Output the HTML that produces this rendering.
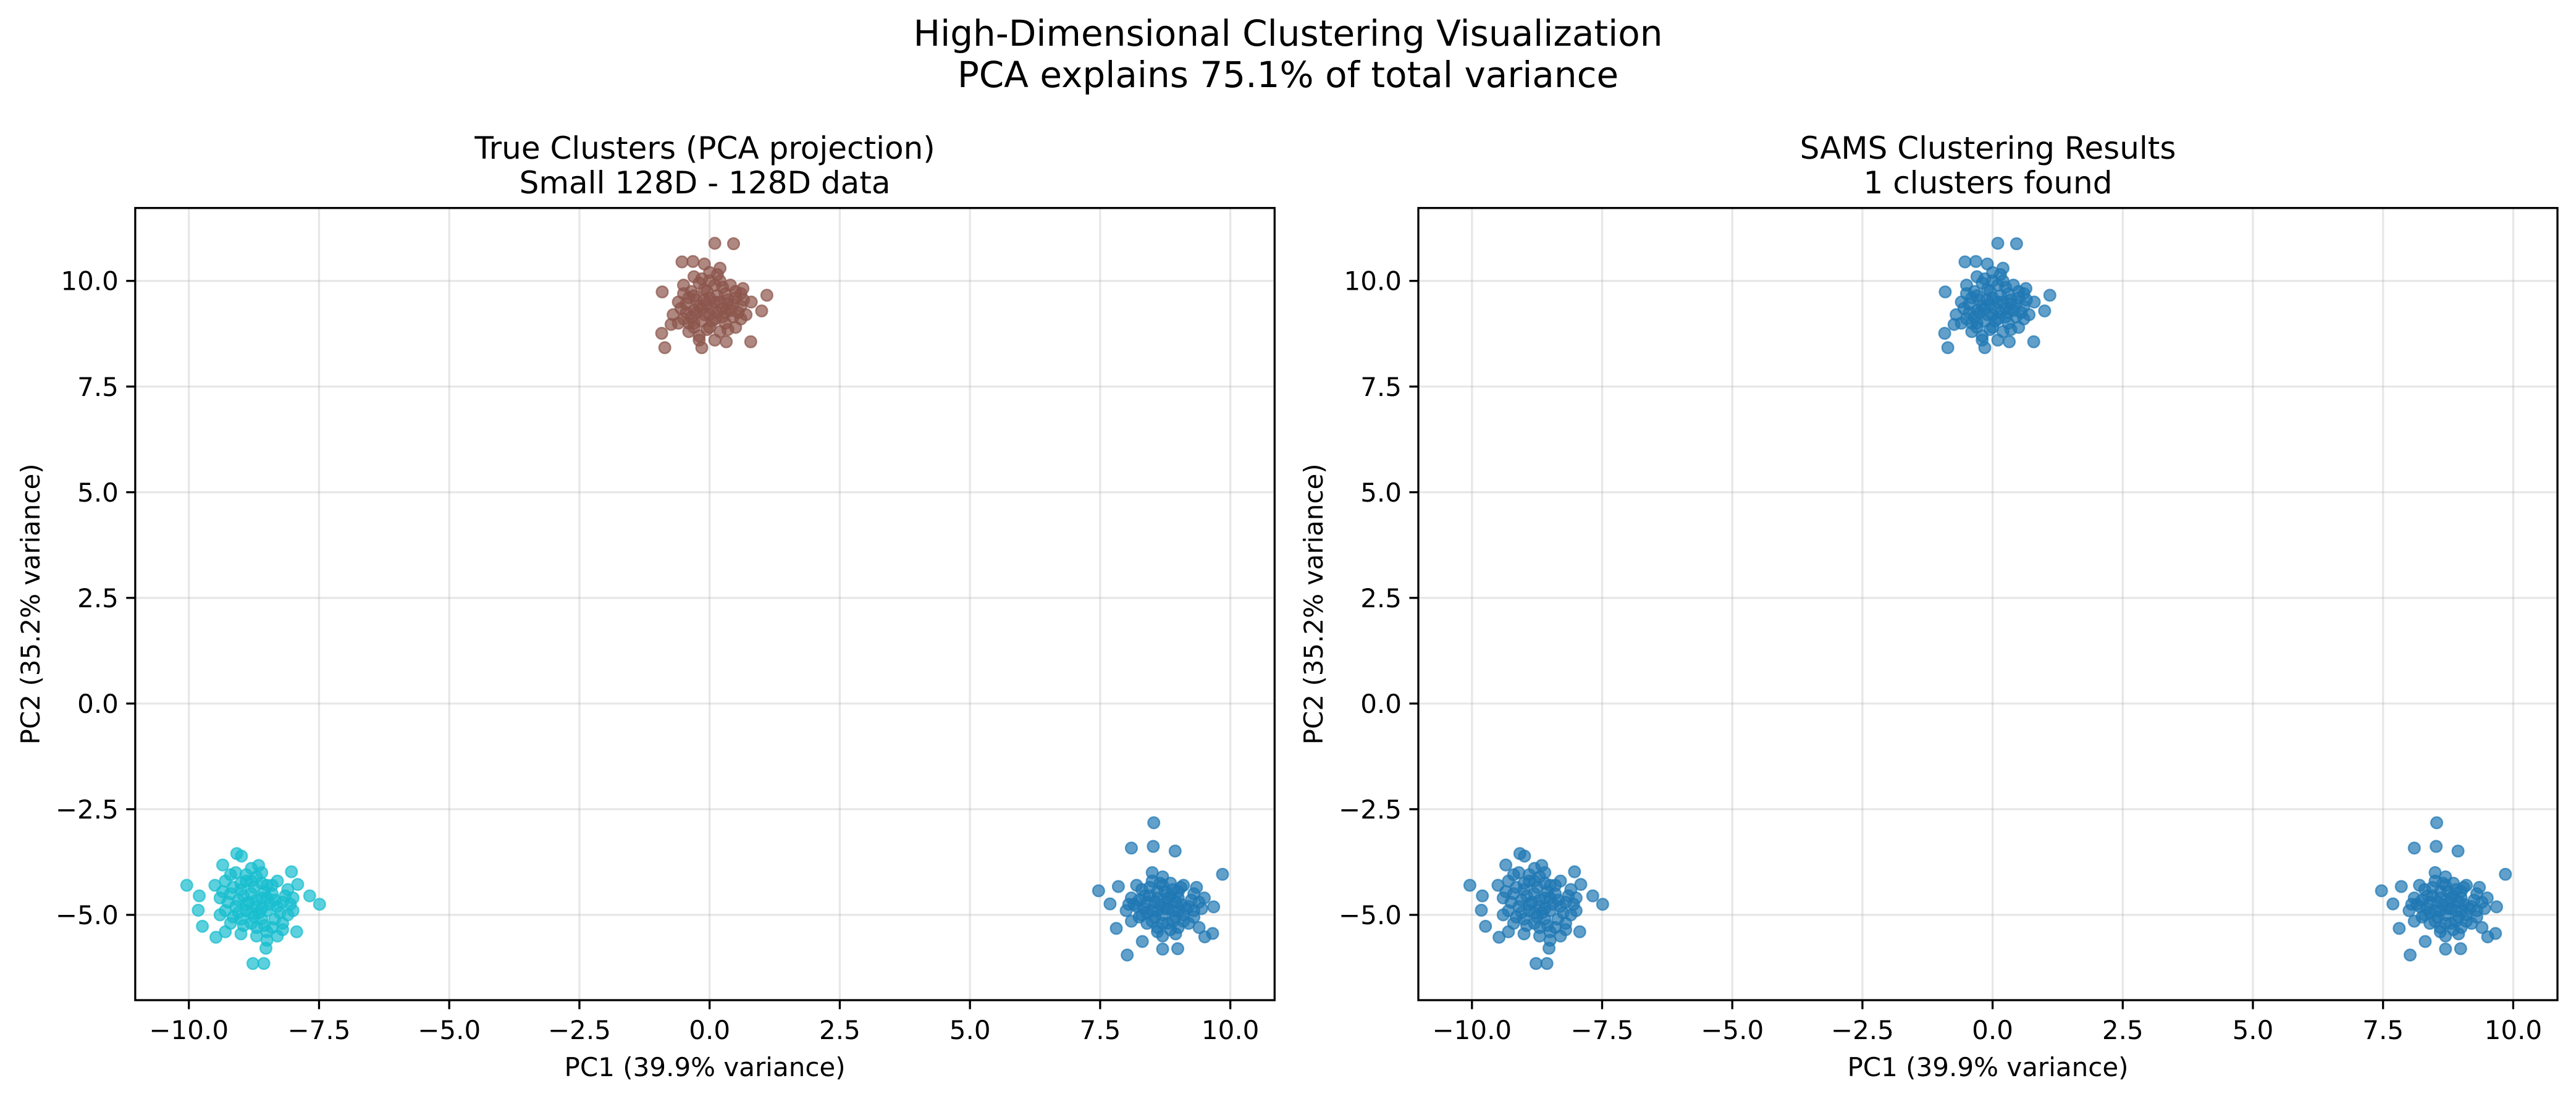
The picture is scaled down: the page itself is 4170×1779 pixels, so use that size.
<!DOCTYPE html>
<html><head><meta charset="utf-8">
<style>
html,body{margin:0;padding:0;background:#fff;}
svg{display:block;font-family:"DejaVu Sans","Liberation Sans",sans-serif;}
</style></head>
<body>
<svg id="fig" width="4170" height="1779" viewBox="0 0 4170 1779" xmlns="http://www.w3.org/2000/svg">
<rect width="4170" height="1779" fill="#fff"/>
<text x="2085" y="74" font-size="58" text-anchor="middle">High-Dimensional Clustering Visualization</text>
<text x="2085" y="141" font-size="58" text-anchor="middle">PCA explains 75.1% of total variance</text>
<g id="panels"></g>
</svg>
<script>
const xTicks = [-10, -7.5, -5, -2.5, 0, 2.5, 5, 7.5, 10];
const yTicks = [-5, -2.5, 0, 2.5, 5, 7.5, 10];
const brownPts = [[-0.5,9.9],[-0.3,10.1],[0.0,10.2],[0.2,10.0],[0.4,9.9],[0.6,9.7],[-0.6,9.5],[-0.4,9.6],[-0.2,9.4],[0.0,9.6],[0.2,9.5],[0.4,9.3],[0.6,9.4],[0.7,9.2],[-0.7,9.2],[-0.5,9.1],[-0.3,9.0],[-0.1,9.2],[0.1,9.1],[0.3,9.0],[0.5,8.9],[-0.4,8.8],[-0.2,8.7],[0.0,8.9],[0.2,8.8],[-0.1,9.8],[0.1,9.9],[0.3,9.7],[-0.3,9.3],[0.5,9.6],[-0.6,9.0],[0.8,9.5],[-0.1,10.4],[0.2,10.3],[-0.2,8.6],[0.1,8.6],[0.6,9.1],[-0.5,9.7],
 [0.10,10.89],[0.46,10.88],[-0.53,10.45],[-0.32,10.46],[1.10,9.66],[1.0,9.29],[-0.91,9.74],[-0.92,8.76],[-0.86,8.42],[0.79,8.56],[0.32,8.56],[-0.15,8.42],[0.64,9.82],[-0.74,8.97],
 [-0.45,9.45],[-0.35,9.75],[-0.25,9.55],[-0.15,9.35],[-0.05,9.45],[0.05,9.35],[0.15,9.65],[0.25,9.35],[0.35,9.55],[0.45,9.15],[-0.45,9.25],[-0.35,9.15],[-0.25,9.25],[-0.15,9.05],[-0.05,9.75],[0.05,9.05],[0.15,9.25],[0.25,9.15],[0.35,9.45],[0.45,9.45],[-0.55,9.35],[0.55,9.25],[-0.2,9.95],[0.0,10.0],[0.25,9.85],[-0.4,9.0],[0.0,9.2],[0.1,9.5],[-0.1,9.55],[0.3,9.25],[-0.3,9.65],[0.65,9.55],[-0.05,8.85],[0.35,8.85],[-0.3,8.9],[0.15,10.15],[-0.15,10.05],[0.5,9.75]];
const bluePts = [[8.1,-4.6],[8.3,-4.4],[8.5,-4.2],[8.7,-4.3],[8.9,-4.4],[9.1,-4.3],[9.3,-4.5],[8.2,-4.8],[8.4,-4.7],[8.6,-4.6],[8.8,-4.7],[9.0,-4.6],[9.2,-4.8],[9.4,-4.7],[8.0,-4.9],[8.3,-5.0],[8.5,-4.9],[8.7,-5.0],[8.9,-4.9],[9.1,-5.0],[9.3,-4.9],[8.4,-5.2],[8.6,-5.3],[8.8,-5.2],[9.0,-5.3],[9.2,-5.2],[8.5,-4.0],[8.7,-4.1],[8.2,-4.3],[9.5,-4.6],[8.6,-4.45],[8.8,-4.85],[9.0,-4.45],[8.35,-4.55],[8.95,-5.45],[8.7,-5.5],[9.4,-5.3],[8.1,-5.15],
 [8.53,-2.82],[8.10,-3.42],[8.52,-3.38],[8.94,-3.49],[9.85,-4.04],[7.47,-4.43],[7.81,-5.32],[8.02,-5.95],[8.70,-5.81],[8.99,-5.80],[8.31,-5.63],[9.51,-5.52],[9.66,-5.44],[9.68,-4.81],[7.69,-4.74],[7.85,-4.33],
 [8.25,-4.65],[8.45,-4.55],[8.65,-4.75],[8.85,-4.55],[9.05,-4.75],[9.25,-4.65],[8.35,-4.85],[8.55,-5.05],[8.75,-4.85],[8.95,-5.05],[9.15,-4.85],[8.45,-4.35],[8.65,-4.25],[8.85,-4.25],[9.05,-4.35],[8.25,-5.05],[8.5,-5.15],[8.7,-5.2],[8.9,-5.15],[9.1,-5.15],[9.3,-5.05],[8.15,-4.75],[9.35,-4.35],[8.6,-4.9],[8.8,-4.6],[9.0,-4.9],[8.4,-4.95],[8.75,-4.45],[8.55,-4.7],[8.95,-4.7],[8.05,-4.75],[9.45,-4.85],[8.6,-5.4],[8.85,-5.35]];
const cyanPts = [[-9.3,-4.2],[-9.1,-4.0],[-8.9,-4.2],[-8.7,-4.1],[-8.5,-4.3],[-8.3,-4.2],[-8.1,-4.4],[-9.4,-4.6],[-9.2,-4.5],[-9.0,-4.4],[-8.8,-4.5],[-8.6,-4.6],[-8.4,-4.5],[-8.2,-4.7],[-9.3,-4.9],[-9.1,-4.8],[-8.9,-4.9],[-8.7,-4.8],[-8.5,-4.9],[-8.3,-4.8],[-8.1,-5.0],[-9.2,-5.2],[-9.0,-5.1],[-8.8,-5.2],[-8.6,-5.1],[-8.4,-5.3],[-8.2,-5.2],[-9.0,-5.45],[-8.7,-5.5],[-8.5,-5.6],[-9.4,-5.0],[-8.0,-4.6],[-8.8,-3.9],[-9.5,-4.3],[-8.6,-4.0],[-9.3,-5.4],[-8.3,-5.5],[-8.0,-4.9],
 [-10.04,-4.30],[-9.82,-4.89],[-9.74,-5.27],[-9.48,-5.53],[-9.08,-3.55],[-8.99,-3.61],[-8.77,-6.15],[-8.56,-6.15],[-8.52,-5.79],[-8.03,-3.98],[-7.91,-4.28],[-7.68,-4.55],[-7.49,-4.75],[-7.93,-5.40],[-8.66,-3.83],[-9.35,-3.82],[-9.80,-4.55],
 [-9.15,-4.35],[-8.95,-4.55],[-8.75,-4.35],[-8.55,-4.45],[-8.35,-4.65],[-8.15,-4.55],[-9.25,-4.7],[-9.05,-4.95],[-8.85,-4.7],[-8.65,-4.95],[-8.45,-4.75],[-8.25,-4.95],[-9.15,-5.05],[-8.95,-5.25],[-8.75,-5.05],[-8.55,-5.25],[-8.35,-5.1],[-9.0,-4.25],[-8.8,-4.2],[-8.6,-4.25],[-8.4,-4.3],[-9.2,-4.05],[-8.9,-4.05],[-8.7,-4.65],[-8.5,-4.6],[-8.9,-4.75],[-8.7,-5.3],[-8.5,-5.4],[-8.2,-5.35],[-9.35,-4.45],[-8.05,-4.75],[-8.6,-4.85],[-8.8,-4.95],[-9.05,-4.65]];
const xDomain = [-11.03, 10.85];
const yDomain = [-7.018, 11.725];

const NS = "http://www.w3.org/2000/svg";
const root = document.getElementById("panels");
function mk(tag, attrs, parent){ const e=document.createElementNS(NS,tag); for(const k in attrs) e.setAttribute(k,attrs[k]); parent.appendChild(e); return e; }
function fmt(v){ const s=Math.abs(v).toFixed(1); return (v<0?"\u2212":"")+s; }

function panel(left, right, top, bottom, titles, series, key){
  const g = mk("g",{},root);
  
  
  const sx = v => left + (v-xDomain[0])/(xDomain[1]-xDomain[0])*(right-left);
  const sy = v => bottom - (v-yDomain[0])/(yDomain[1]-yDomain[0])*(bottom-top);
  xTicks.forEach(t=>{
    const l=mk("line",{x1:sx(t),x2:sx(t),y1:top,y2:bottom,stroke:"#b0b0b0","stroke-opacity":0.3,"stroke-width":3.3},g);
    
    
  });
  yTicks.forEach(t=>{
    const l=mk("line",{x1:left,x2:right,y1:sy(t),y2:sy(t),stroke:"#b0b0b0","stroke-opacity":0.3,"stroke-width":3.3},g);
    
    
  });
  series.forEach(s=>{
    s.pts.forEach(p=>{
      const c=mk("circle",{cx:sx(p[0]),cy:sy(p[1]),r:9.3,fill:s.color,"fill-opacity":0.7,stroke:s.color,"stroke-opacity":0.7,"stroke-width":2.5},g);
      
      
    });
  });
  const fr=mk("rect",{x:left,y:top,width:right-left,height:bottom-top,fill:"none",stroke:"#000","stroke-width":3.3},g);
  
  
  xTicks.forEach(t=>{
    mk("line",{x1:sx(t),x2:sx(t),y1:bottom,y2:bottom+14.6,stroke:"#000","stroke-width":3.3},g);
    const tx=mk("text",{x:sx(t),y:1682,"font-size":42,"text-anchor":"middle"},g);
    tx.textContent=fmt(t);
    
    
  });
  yTicks.forEach(t=>{
    mk("line",{x1:left-14.6,x2:left,y1:sy(t),y2:sy(t),stroke:"#000","stroke-width":3.3},g);
    const tx=mk("text",{x:left-27,y:sy(t)+15,"font-size":42,"text-anchor":"end"},g);
    tx.textContent=fmt(t);
    
    
  });
  const cx=(left+right)/2;
  const xl=mk("text",{x:cx,y:1742,"font-size":42,"text-anchor":"middle"},g);
  xl.textContent="PC1 (39.9% variance)";
  
  
  const yx=left-155, yc=(top+bottom)/2;
  const yl=mk("text",{x:yx,y:yc,"font-size":42,"text-anchor":"middle",transform:`rotate(-90 ${yx} ${yc})`},g);
  yl.textContent="PC2 (35.2% variance)";
  
  
  titles.forEach((t,i)=>{
    const tt=mk("text",{x:cx,y:[257,313][i],"font-size":50,"text-anchor":"middle"},g);
    tt.textContent=t;
    
    
  });
}
panel(218.9, 2063.3, 336.7, 1619, ["True Clusters (PCA projection)","Small 128D - 128D data"],
  [{pts:brownPts,color:"#8c564b",name:"cluster-brown"},{pts:bluePts,color:"#1f77b4",name:"cluster-blue"},{pts:cyanPts,color:"#17becf",name:"cluster-cyan"}],"true-clusters");
panel(2296, 4140, 336.7, 1619, ["SAMS Clustering Results","1 clusters found"],
  [{pts:brownPts,color:"#1f77b4",name:"sams-top"},{pts:bluePts,color:"#1f77b4",name:"sams-right"},{pts:cyanPts,color:"#1f77b4",name:"sams-left"}],"sams-results");
</script>
</body></html>
